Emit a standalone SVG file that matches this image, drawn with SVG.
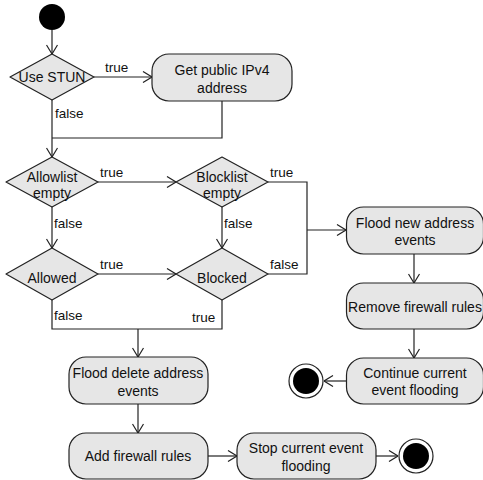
<svg xmlns="http://www.w3.org/2000/svg" width="483" height="480" viewBox="0 0 483 480">
<style>
.n{fill:#e6e6e6;stroke:#222;stroke-width:1.2;stroke-linejoin:round}
.t{font-family:"Liberation Sans",Arial,sans-serif;font-size:14px;fill:#111;text-anchor:middle}
.l{font-family:"Liberation Sans",Arial,sans-serif;font-size:13.5px;fill:#111}
.c{fill:none;stroke:#222;stroke-width:1.2}
.a{marker-end:url(#arr)}
</style>
<defs>
<marker id="arr" viewBox="0 0 10 12" refX="10" refY="6" markerWidth="10" markerHeight="12" markerUnits="userSpaceOnUse" orient="auto">
<path d="M1,0.5 L10,6 L1,11.5" fill="none" stroke="#222" stroke-width="1.2"/>
</marker>
</defs>
<rect width="483" height="480" fill="#fff"/>
<g id="connectors">
<path class="c a" d="M52,30 V54"/>
<path class="c a" d="M94,77 H152"/>
<path class="c a" d="M52,100 V157"/>
<path class="c" d="M222,101 V138 H52"/>
<path class="c a" d="M98,182 H176"/>
<path class="c a" d="M52,207 V248"/>
<path class="c a" d="M222,207 V248"/>
<path class="c a" d="M98,274 H176"/>
<path class="c" d="M268,182 H307 V274 H268"/>
<path class="c a" d="M307,230 H346"/>
<path class="c" d="M52,300 V329 H222 V300"/>
<path class="c a" d="M138,329 V357"/>
<path class="c a" d="M138,404 V433"/>
<path class="c a" d="M208,456 H237"/>
<path class="c a" d="M376,456 H398"/>
<path class="c a" d="M414,254 V283"/>
<path class="c a" d="M414,329 V358"/>
<path class="c a" d="M346,381 H324"/>
<text class="l" x="105" y="72">true</text>
<text class="l" x="55" y="118">false</text>
<text class="l" x="100" y="177">true</text>
<text class="l" x="54" y="228">false</text>
<text class="l" x="270" y="177">true</text>
<text class="l" x="224" y="228">false</text>
<text class="l" x="100" y="269">true</text>
<text class="l" x="270" y="269">false</text>
<text class="l" x="54" y="320">false</text>
<text class="l" x="192" y="322">true</text>
</g>
<g id="start"><circle cx="52" cy="17" r="13" fill="#000"/></g>
<g id="use-stun"><path class="n" d="M10,77 L52,54 L94,77 L52,100 Z"/><text class="t" x="52" y="82">Use STUN</text></g>
<g id="get-ipv4"><rect class="n" x="152" y="54" width="140" height="47" rx="17"/><text class="t" x="222" y="75">Get public IPv4</text><text class="t" x="222" y="93">address</text></g>
<g id="allowlist-empty"><path class="n" d="M6,182 L52,157 L98,182 L52,207 Z"/><text class="t" x="52" y="182">Allowlist</text><text class="t" x="52" y="198">empty</text></g>
<g id="blocklist-empty"><path class="n" d="M176,182 L222,157 L268,182 L222,207 Z"/><text class="t" x="222" y="182">Blocklist</text><text class="t" x="222" y="198">empty</text></g>
<g id="allowed"><path class="n" d="M6,274 L52,248 L98,274 L52,300 Z"/><text class="t" x="52" y="283">Allowed</text></g>
<g id="blocked"><path class="n" d="M176,274 L222,248 L268,274 L222,300 Z"/><text class="t" x="222" y="283">Blocked</text></g>
<g id="flood-new"><rect class="n" x="346.5" y="207" width="137" height="47" rx="17"/><text class="t" x="415" y="228">Flood new address</text><text class="t" x="415" y="245">events</text></g>
<g id="remove-rules"><rect class="n" x="346.5" y="283" width="137" height="46" rx="17"/><text class="t" x="415" y="312">Remove firewall rules</text></g>
<g id="continue-flood"><rect class="n" x="346.5" y="358" width="137" height="46" rx="17"/><text class="t" x="415" y="378">Continue current</text><text class="t" x="415" y="395">event flooding</text></g>
<g id="end1"><circle cx="306" cy="381" r="17" fill="#fff" stroke="#222" stroke-width="1.2"/><circle cx="306" cy="381" r="13" fill="#000"/></g>
<g id="flood-delete"><rect class="n" x="69" y="357" width="139" height="47" rx="17"/><text class="t" x="138" y="378">Flood delete address</text><text class="t" x="138" y="396">events</text></g>
<g id="add-rules"><rect class="n" x="69" y="433" width="139" height="46" rx="17"/><text class="t" x="138" y="461">Add firewall rules</text></g>
<g id="stop-flood"><rect class="n" x="237" y="433" width="139" height="46" rx="17"/><text class="t" x="306" y="453">Stop current event</text><text class="t" x="306" y="471">flooding</text></g>
<g id="end2"><circle cx="416" cy="456" r="17" fill="#fff" stroke="#222" stroke-width="1.2"/><circle cx="416" cy="456" r="13" fill="#000"/></g>
</svg>
